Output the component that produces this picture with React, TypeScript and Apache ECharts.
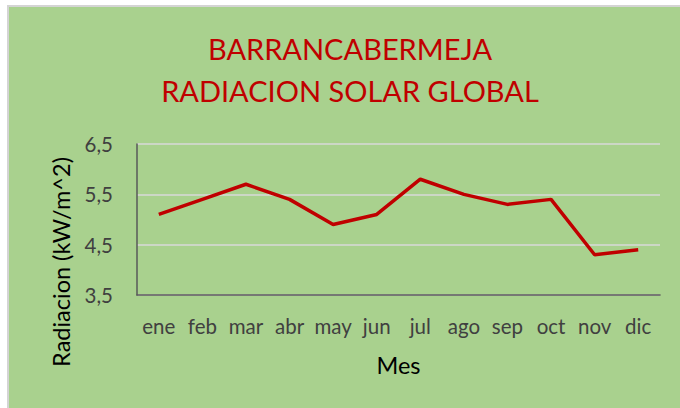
import React, { useEffect, useRef } from "react";
import * as echarts from "echarts";

const months = ["ene", "feb", "mar", "abr", "may", "jun", "jul", "ago", "sep", "oct", "nov", "dic"];
const radiation = [5.1, 5.4, 5.7, 5.4, 4.9, 5.1, 5.8, 5.5, 5.3, 5.4, 4.3, 4.4];
const titleLines = ["BARRANCABERMEJA", "RADIACION SOLAR GLOBAL"];
const yAxisTitle = "Radiacion (kW/m^2)";
const xAxisTitle = "Mes";
const yMin = 3.5;
const yMax = 6.5;

const FONT = "Lato, 'Open Sans', sans-serif";

export default function App() {
  const ref = useRef<HTMLDivElement>(null);
  useEffect(() => {
    if (!ref.current) return;
    const chart = echarts.init(ref.current, undefined, { renderer: "svg" });
    chart.setOption({
      animation: false,
      backgroundColor: "transparent",
      textStyle: { fontFamily: FONT },
      grid: { left: 137, right: 20, top: 144, bottom: 113, containLabel: false },
      graphic: [
        {
          type: "text",
          x: 350,
          y: 48,
          style: {
            text: titleLines[0],
            fill: "#c00000",
            font: `29px ${FONT}`,
            textAlign: "center",
            textVerticalAlign: "middle",
          },
        },
        {
          type: "text",
          x: 350,
          y: 90,
          style: {
            text: titleLines[1],
            fill: "#c00000",
            font: `29px ${FONT}`,
            textAlign: "center",
            textVerticalAlign: "middle",
          },
        },
        {
          type: "text",
          x: 61,
          y: 262,
          rotation: Math.PI / 2,
          style: {
            text: yAxisTitle,
            fill: "#000000",
            font: `23.5px ${FONT}`,
            textAlign: "center",
            textVerticalAlign: "middle",
          },
        },
      ],
      xAxis: {
        type: "category",
        data: months,
        boundaryGap: true,
        name: xAxisTitle,
        nameLocation: "middle",
        nameGap: 58,
        nameTextStyle: { color: "#000000", fontSize: 23.5, fontFamily: FONT },
        axisLine: { show: true, lineStyle: { color: "#595959", width: 1.5 } },
        axisTick: { show: false },
        axisLabel: { color: "#404040", fontSize: 20.5, margin: 20, fontFamily: FONT, interval: 0 },
        splitLine: { show: false },
      },
      yAxis: {
        type: "value",
        min: yMin,
        max: yMax,
        interval: 1,
        axisLine: { show: true, lineStyle: { color: "#595959", width: 1.5 } },
        axisTick: { show: false },
        axisLabel: {
          color: "#404040",
          fontSize: 20.5,
          margin: 24,
          fontFamily: FONT,
          formatter: (v: number) => v.toFixed(1).replace(".", ","),
        },
        splitLine: { show: true, lineStyle: { color: "#d9d9d9", width: 1.5 } },
      },
      series: [
        {
          type: "line",
          data: radiation,
          showSymbol: false,
          symbol: "none",
          lineStyle: { color: "#c00000", width: 3.5 },
          itemStyle: { color: "#c00000" },
        },
      ],
    });
    return () => chart.dispose();
  }, []);

  return (
    <div style={{ position: "fixed", left: 0, top: 0, width: 680, height: 408, background: "#ffffff" }}>
      <div
        style={{
          position: "absolute",
          left: 7,
          top: 5,
          width: 673,
          height: 403,
          background: "#d4d4d4",
        }}
      />
      <div
        style={{
          position: "absolute",
          left: 9,
          top: 7,
          width: 671,
          height: 401,
          background: "#a9d18e",
        }}
      />
      <div ref={ref} style={{ position: "absolute", left: 0, top: 0, width: 680, height: 408 }} />
    </div>
  );
}
